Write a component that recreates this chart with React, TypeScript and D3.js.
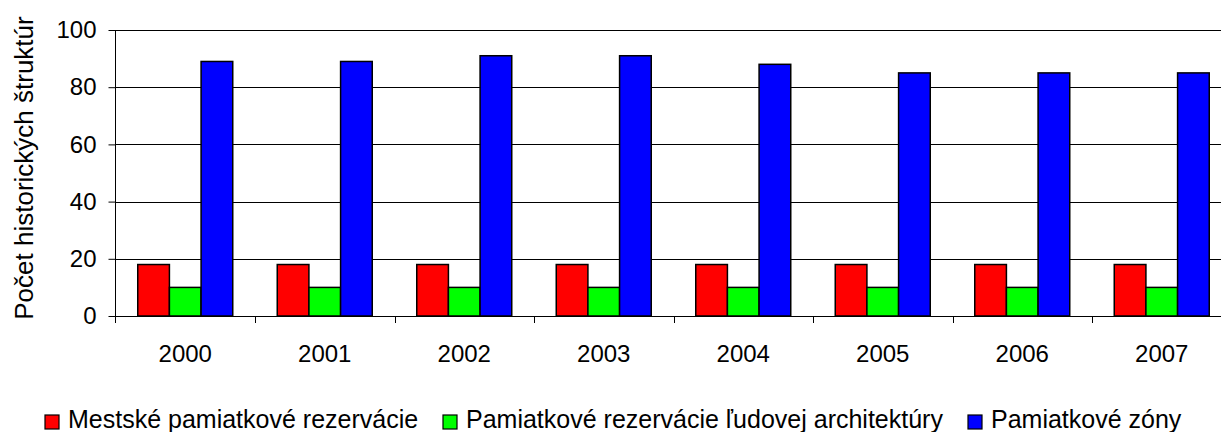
import { useEffect, useRef } from "react";
import * as d3 from "d3";

const years = ["2000", "2001", "2002", "2003", "2004", "2005", "2006", "2007"];
const seriesNames = [
  "Mestské pamiatkové rezervácie",
  "Pamiatkové rezervácie ľudovej architektúry",
  "Pamiatkové zóny",
];
const mestske = [18, 18, 18, 18, 18, 18, 18, 18];
const ludove = [10, 10, 10, 10, 10, 10, 10, 10];
const zony = [89, 89, 91, 91, 88, 85, 85, 85];
const yTicks = [0, 20, 40, 60, 80, 100];
const colors = ["#ff0000", "#00ff00", "#0000ff"];

const W = 1221;
const H = 432;
const FONT = "'Liberation Sans', Arial, sans-serif";

export default function App() {
  const svgRef = useRef<SVGSVGElement>(null);

  useEffect(() => {
    const svg = d3.select(svgRef.current);
    svg.selectAll("*").remove();

    const left = 115.5;
    const top = 30;
    const bottom = 316;
    const step = 139.5;
    const right = left + step * years.length;

    const values = [mestske, ludove, zony];

    const x = d3.scaleBand().domain(years).range([left, right]).padding(0);
    const groupW = 95;
    const off = (step - groupW) / 2;
    const xs = d3
      .scaleBand()
      .domain(seriesNames)
      .range([off, off + groupW])
      .padding(0);
    const y = d3.scaleLinear().domain([0, 100]).range([bottom, top]);

    // gridlines
    svg
      .append("g")
      .selectAll("line")
      .data(yTicks.filter((t) => t > 0))
      .enter()
      .append("line")
      .attr("x1", left)
      .attr("x2", right)
      .attr("y1", (d) => Math.round(y(d)) + 0.5)
      .attr("y2", (d) => Math.round(y(d)) + 0.5)
      .attr("stroke", "#000")
      .attr("stroke-width", 1);

    // bars
    seriesNames.forEach((name, si) => {
      svg
        .append("g")
        .selectAll("rect")
        .data(years)
        .enter()
        .append("rect")
        .attr("x", (d) => (x(d) as number) + (xs(name) as number))
        .attr("y", (d, i) => y(values[si][i]))
        .attr("width", xs.bandwidth())
        .attr("height", (d, i) => bottom - y(values[si][i]))
        .attr("fill", colors[si])
        .attr("stroke", "#000")
        .attr("stroke-width", 1.5);
    });

    // y axis
    const yAxis = svg
      .append("g")
      .attr("transform", `translate(${left},0)`)
      .call(d3.axisLeft(y).tickValues(yTicks).tickSize(7).tickPadding(12));
    yAxis.select(".domain").attr("stroke", "#000").attr("d", `M0,${top}V${bottom + 7}`);
    yAxis.selectAll("line").attr("stroke", "#000");
    yAxis
      .selectAll("text")
      .attr("font-family", FONT)
      .attr("font-size", 24)
      .attr("fill", "#000");

    // x axis
    const xAxis = svg
      .append("g")
      .attr("transform", `translate(0,${bottom})`)
      .call(d3.axisBottom(x).tickSize(0).tickPadding(29));
    xAxis.select(".domain").remove();
    xAxis
      .selectAll("text")
      .attr("font-family", FONT)
      .attr("font-size", 24)
      .attr("fill", "#000");
    svg
      .append("line")
      .attr("x1", left)
      .attr("x2", right)
      .attr("y1", bottom + 0.5)
      .attr("y2", bottom + 0.5)
      .attr("stroke", "#000");
    svg
      .append("g")
      .selectAll("line")
      .data(years.slice(1))
      .enter()
      .append("line")
      .attr("x1", (d) => Math.round(x(d) as number) + 0.5)
      .attr("x2", (d) => Math.round(x(d) as number) + 0.5)
      .attr("y1", bottom)
      .attr("y2", bottom + 7)
      .attr("stroke", "#000");

    // y title
    svg
      .append("text")
      .attr("transform", `translate(33,168) rotate(-90)`)
      .attr("text-anchor", "middle")
      .attr("font-family", FONT)
      .attr("font-size", 26)
      .text("Počet historických štruktúr");

    // legend
    const legendX = [45, 443, 968];
    const lg = svg.append("g");
    seriesNames.forEach((name, i) => {
      lg.append("rect")
        .attr("x", legendX[i])
        .attr("y", 415)
        .attr("width", 14)
        .attr("height", 14)
        .attr("fill", colors[i])
        .attr("stroke", "#000")
        .attr("stroke-width", 1.2);
      lg.append("text")
        .attr("x", legendX[i] + 23)
        .attr("y", 428)
        .attr("font-family", FONT)
        .attr("font-size", 25)
        .text(name);
    });
  }, []);

  return (
    <svg
      ref={svgRef}
      width={W}
      height={H}
      style={{ position: "absolute", left: 0, top: 0, background: "#fff" }}
    />
  );
}
